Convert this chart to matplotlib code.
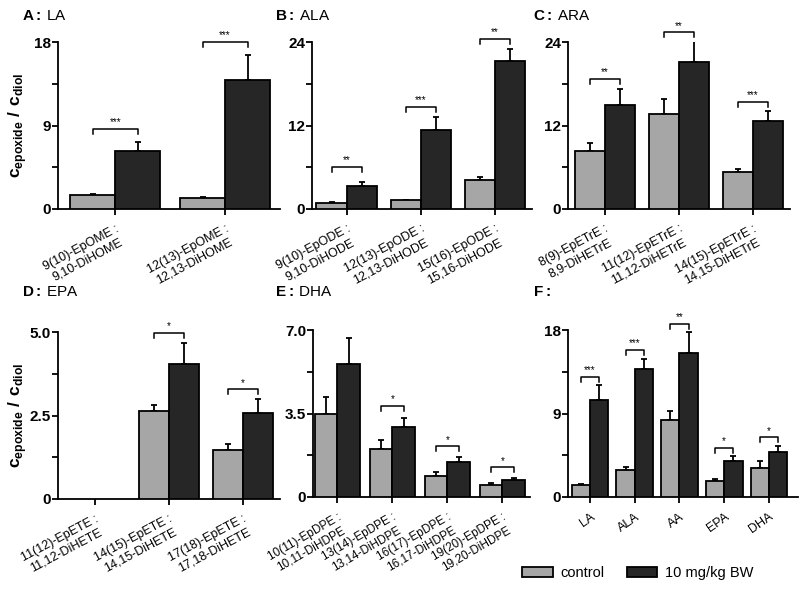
import numpy as np
import matplotlib
matplotlib.use('Agg')
import matplotlib.pyplot as plt

plt.rcParams['font.family'] = ['Liberation Sans', 'DejaVu Sans']
plt.rcParams['mathtext.fontset'] = 'custom'
plt.rcParams['mathtext.rm'] = 'Liberation Sans'
plt.rcParams['mathtext.bf'] = 'Liberation Sans:bold'

# ---- data ----
# A: LA
la_labels = ['9(10)-EpOME :\n9,10-DiHOME', '12(13)-EpOME :\n12,13-DiHOME']
la_ctrl = [1.47, 1.19]
la_ctrl_err = [0.18, 0.1]
la_dose = [6.2, 13.95]
la_dose_err = [1.02, 2.6]
la_stars = ['***', '***']
la_brk = [8.6, 18.0]

# B: ALA
ala_labels = ['9(10)-EpODE :\n9,10-DiHODE', '12(13)-EpODE :\n12,13-DiHODE', '15(16)-EpODE :\n15,16-DiHODE']
ala_ctrl = [0.86, 1.25, 4.18]
ala_ctrl_err = [0.15, 0.1, 0.42]
ala_dose = [3.26, 11.4, 21.2]
ala_dose_err = [0.58, 1.8, 1.8]
ala_stars = ['**', '***', '**']
ala_brk = [6.1, 14.7, 24.4]

# C: ARA
ara_labels = ['8(9)-EpETrE :\n8,9-DiHETrE', '11(12)-EpETrE :\n11,12-DiHETrE', '14(15)-EpETrE :\n14,15-DiHETrE']
ara_ctrl = [8.4, 13.7, 5.3]
ara_ctrl_err = [1.1, 2.1, 0.4]
ara_dose = [14.9, 21.1, 12.6]
ara_dose_err = [2.4, 3.0, 1.5]
ara_stars = ['**', '**', '***']
ara_brk = [18.7, 25.4, 15.4]

# D: EPA (no data for 11(12)-EpETE)
epa_labels = ['11(12)-EpETE :\n11,12-DiHETE', '14(15)-EpETE :\n14,15-DiHETE', '17(18)-EpETE :\n17,18-DiHETE']
epa_ctrl = [np.nan, 2.63, 1.46]
epa_ctrl_err = [np.nan, 0.18, 0.19]
epa_dose = [np.nan, 4.03, 2.56]
epa_dose_err = [np.nan, 0.64, 0.42]
epa_stars = [None, '*', '*']
epa_brk = [None, 4.98, 3.28]

# E: DHA
dha_labels = ['10(11)-EpDPE :\n10,11-DiHDPE', '13(14)-EpDPE :\n13,14-DiHDPE',
              '16(17)-EpDPE :\n16,17-DiHDPE', '19(20)-EpDPE :\n19,20-DiHDPE']
dha_ctrl = [3.49, 2.02, 0.86, 0.49]
dha_ctrl_err = [0.72, 0.35, 0.17, 0.1]
dha_dose = [5.56, 2.93, 1.45, 0.73]
dha_dose_err = [1.12, 0.4, 0.22, 0.05]
dha_stars = [None, '*', '*', '*']
dha_brk = [None, 3.82, 2.12, 1.24]

# F: summary
sum_labels = ['LA', 'ALA', 'AA', 'EPA', 'DHA']
sum_ctrl = [1.29, 2.9, 8.32, 1.76, 3.15]
sum_ctrl_err = [0.11, 0.29, 1.0, 0.18, 0.69]
sum_dose = [10.47, 13.83, 15.56, 3.84, 4.87]
sum_dose_err = [1.57, 1.01, 2.18, 0.53, 0.65]
sum_stars = ['***', '***', '**', '*', '*']
sum_brk = [12.97, 15.84, 18.7, 5.27, 6.42]

CTRL_COLOR = '#a6a6a6'
DOSE_COLOR = '#262626'
BW = 0.41


def draw_panel(rect, labels, ctrl, ctrl_err, dose, dose_err, stars, brk,
               ymax, yticks, yticklabels, xlim, rot=28, fs=9):
    ax = fig.add_axes(rect)
    x = np.arange(len(labels))
    ax.bar(x - BW / 2, ctrl, BW, color=CTRL_COLOR, edgecolor='black', linewidth=1.3, zorder=3)
    ax.bar(x + BW / 2, dose, BW, color=DOSE_COLOR, edgecolor='black', linewidth=1.3, zorder=3)
    zeros = np.zeros(len(labels))
    ax.errorbar(x - BW / 2, ctrl, yerr=[zeros, ctrl_err], fmt='none', ecolor='black',
                elinewidth=1.3, capsize=2, capthick=1.3, zorder=2)
    ax.errorbar(x + BW / 2, dose, yerr=[zeros, dose_err], fmt='none', ecolor='black',
                elinewidth=1.3, capsize=2, capthick=1.3, zorder=2)
    d = ymax * 0.03
    for xi, s, yb in zip(x, stars, brk):
        if s is None:
            continue
        ax.plot([xi - BW / 2, xi - BW / 2, xi + BW / 2, xi + BW / 2], [yb - d, yb, yb, yb - d],
                color='black', lw=1.1, clip_on=False)
        ax.text(xi, yb + ymax * 0.01, s, ha='center', va='bottom', fontsize=7)
    ax.set_xlim(*xlim)
    ax.set_ylim(0, ymax)
    ax.set_yticks(yticks)
    ax.set_yticklabels(yticklabels, fontweight='bold', fontsize=11)
    ax.set_yticks([ymax / 4, ymax * 3 / 4], minor=True)
    ax.set_xticks(x)
    ax.set_xticklabels(labels, rotation=rot, ha='right', va='top', rotation_mode='anchor',
                       ma='center', fontsize=fs, linespacing=1.2)
    ax.spines['top'].set_visible(False)
    ax.spines['right'].set_visible(False)
    ax.spines['left'].set_linewidth(1.3)
    ax.spines['bottom'].set_linewidth(1.3)
    ax.tick_params(axis='both', which='both', width=1.3, direction='out')
    ax.tick_params(axis='y', which='major', length=4, pad=1)
    ax.tick_params(axis='y', which='minor', length=4)
    ax.tick_params(axis='x', length=4, pad=6)
    return ax


fig = plt.figure(figsize=(8, 5.9), dpi=100)

ylab = r'$\mathbf{c}_{\mathbf{epoxide}}\ \mathbf{/}\ \mathbf{c}_{\mathbf{diol}}$'

axA = draw_panel([58 / 800, 381 / 590, 222 / 800, 167 / 590], la_labels, la_ctrl, la_ctrl_err,
                 la_dose, la_dose_err, la_stars, la_brk, 18, [0, 9, 18], ['0', '9', '18'], (-0.52, 1.5))
axB = draw_panel([312 / 800, 381 / 590, 220 / 800, 167 / 590], ala_labels, ala_ctrl, ala_ctrl_err,
                 ala_dose, ala_dose_err, ala_stars, ala_brk, 24, [0, 12, 24], ['0', '12', '24'], (-0.47, 2.5))
axC = draw_panel([568 / 800, 381 / 590, 222 / 800, 167 / 590], ara_labels, ara_ctrl, ara_ctrl_err,
                 ara_dose, ara_dose_err, ara_stars, ara_brk, 24, [0, 12, 24], ['0', '12', '24'], (-0.5, 2.5))
axD = draw_panel([58 / 800, 91 / 590, 222 / 800, 167 / 590], epa_labels, epa_ctrl, epa_ctrl_err,
                 epa_dose, epa_dose_err, epa_stars, epa_brk, 5.0, [0, 2.5, 5.0], ['0', '2.5', '5.0'], (-0.5, 2.5))
axE = draw_panel([313 / 800, 93 / 590, 217 / 800, 167 / 590], dha_labels, dha_ctrl, dha_ctrl_err,
                 dha_dose, dha_dose_err, dha_stars, dha_brk, 7.0, [0, 3.5, 7.0], ['0', '3.5', '7.0'], (-0.44, 3.5),
                 rot=30, fs=8.5)
axF = draw_panel([568 / 800, 93 / 590, 230 / 800, 167 / 590], sum_labels, sum_ctrl, sum_ctrl_err,
                 sum_dose, sum_dose_err, sum_stars, sum_brk, 18, [0, 9, 18], ['0', '9', '18'], (-0.49, 4.65), rot=35)

for ax in (axA, axD):
    ax.set_ylabel(ylab, fontsize=12.5)
    ax.yaxis.set_label_coords(-0.13, 0.5)

titles = [(22, 16, 'A:', 'LA'), (275, 16, 'B:', 'ALA'), (533, 16, 'C:', 'ARA'),
          (22, 292, 'D:', 'EPA'), (275, 292, 'E:', 'DHA'), (533, 292, 'F:', '')]
for tx, ty, letter, name in titles:
    fig.text(tx / 800, 1 - ty / 590, r'$\mathbf{' + letter + r'}\,$' + name, fontsize=11, va='center')

handles = [plt.Rectangle((0, 0), 1, 1, facecolor=CTRL_COLOR, edgecolor='black', lw=1.3),
           plt.Rectangle((0, 0), 1, 1, facecolor=DOSE_COLOR, edgecolor='black', lw=1.3)]
fig.legend(handles, ['control', '10 mg/kg BW'], loc='center left', bbox_to_anchor=(522 / 800, 1 - 573 / 590),
           ncol=2, frameon=False, fontsize=10.5, handlelength=2.1, handleheight=0.7,
           handletextpad=0.55, columnspacing=1.5, borderpad=0, borderaxespad=0)

fig.savefig('out.png', dpi=100)
